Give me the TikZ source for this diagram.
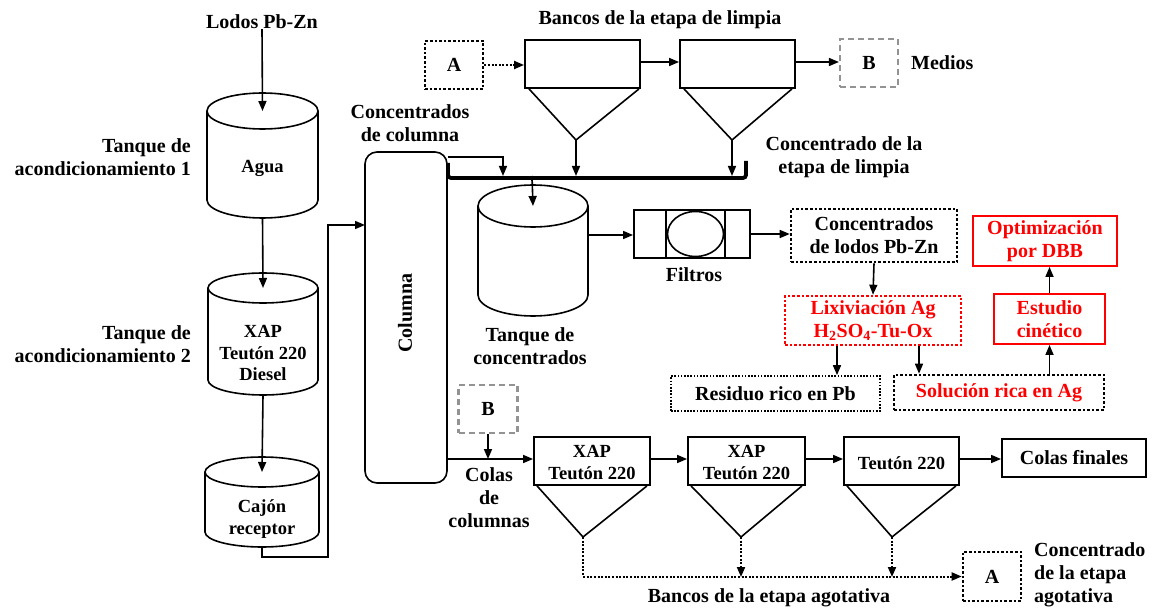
\documentclass[tikz,border=0pt]{standalone}
\usepackage{fontspec}
\setmainfont{Liberation Serif}
\usetikzlibrary{arrows.meta,calc}

% tank drawn as a cylinder: name, cx, rx, y of top ellipse, ry, y of bottom ellipse, text y, text
\newcommand\drawtank[8]{%
  \draw[conn] (#2-#3,#4) -- (#2-#3,#6) arc[start angle=180,end angle=0,x radius=#3,y radius=#5] -- (#2+#3,#4);
  \draw[conn] (#2,#4) ellipse[x radius=#3,y radius=#5];
  \node[tanktxt] (#1) at (#2,#7) {#8};
  \coordinate (#1-in) at (#2,#4);
  \coordinate (#1-out) at (#2,#6+#5);
}

\begin{document}
\begin{tikzpicture}[x=1pt,y=-1pt,
  conn/.style={line width=1.6pt},
  arr/.style={conn,-{Triangle[length=10pt,width=8pt]}},
  dotarr/.style={line width=2pt,dash pattern=on 2pt off 1.6pt,-{Triangle[length=10pt,width=8pt]}},
  lbl/.style={inner sep=0,align=center,font=\bfseries\fontsize{20}{23}\selectfont},
  tanktxt/.style={inner sep=0,align=center,font=\bfseries\fontsize{18.5}{21.5}\selectfont},
  banktxt/.style={inner sep=0,align=center,font=\bfseries\fontsize{18.5}{22}\selectfont},
  box/.style={draw,line width=1.9pt,inner sep=0},
  dotbox/.style={draw,line width=2.6pt,dash pattern=on 2.6pt off 2pt,inner sep=0},
  finedot/.style={draw,line width=1.7pt,dash pattern=on 1.7pt off 1.5pt,inner sep=0},
  graydash/.style={draw=gray!85,line width=2.2pt,dash pattern=on 6pt off 4pt,inner sep=0},
  redbox/.style={draw=red,line width=1.9pt,inner sep=0,text=red},
  reddot/.style={draw=red,line width=2.6pt,dash pattern=on 2.6pt off 2pt,inner sep=0,text=red}
]
\useasboundingbox (0,0) rectangle (1153,609);

% ---------------- feed and conditioning tanks ----------------
\node[lbl] (lodos) at (262,22) {Lodos Pb-Zn};
\drawtank{t1}{262.5}{55.5}{111}{18}{200}{168}{Agua}
\drawtank{t2}{263}{55}{288}{15}{380}{353}{XAP\\Teutón 220\\Diesel}
\drawtank{t3}{262}{57}{472}{15}{532}{519}{Cajón\\receptor}
\node[lbl,anchor=east,align=right] (lt1) at (191,157) {Tanque de\\acondicionamiento 1};
\node[lbl,anchor=east,align=right] (lt2) at (191,344) {Tanque de\\acondicionamiento 2};

\draw[arr] (lodos.south) -- (t1-in);
\draw[arr] (t1-out) -- (t2-in);
\draw[arr] (t2-out) -- (t3-in);

% ---------------- column ----------------
\node[draw,line width=1.6pt,rounded corners=12pt,minimum width=82pt,minimum height=331pt,inner sep=0] (col) at (406,317.5) {};
\node[lbl,rotate=90] (colt) at (405,313) {Columna};
\coordinate (feedup) at (328,557);
\coordinate (colin) at (365,225);
\draw[arr] (t3-out) |- (feedup) |- (colin);

\node[lbl] (cconc) at (410,123) {Concentrados\\de columna};

% ---------------- cleaner banks ----------------
\node[lbl] (tlimp) at (660,20) {Bancos de la etapa de limpia};
\node[box,minimum width=115pt,minimum height=48pt] (L1) at (582.5,64) {};
\node[box,minimum width=115pt,minimum height=48pt] (L2) at (737.5,64) {};
\coordinate (L1tip) at (576,140);
\coordinate (L2tip) at (732,140);
\draw[conn] ($(L1.south west)+(5,0)$) -- (L1tip) -- ($(L1.south east)+(-2,0)$);
\draw[conn] ($(L2.south west)+(5,0)$) -- (L2tip) -- ($(L2.south east)+(-4,0)$);
\node[dotbox,minimum width=58pt,minimum height=48pt,font=\bfseries\fontsize{20}{23}\selectfont] (At) at (454,65) {A};
\node[graydash,minimum width=58pt,minimum height=48pt,font=\bfseries\fontsize{20}{23}\selectfont] (Bt) at (869,63) {B};
\node[lbl,anchor=west] (medios) at (911,63) {Medios};
\draw[dotarr] (At.east) -- (At.east -| L1.west);
\draw[arr] (L1.east |- 0,62) -- (L2.west |- 0,62);
\draw[arr] (L2.east |- 0,62) -- (Bt.west |- 0,62);
\node[lbl] (climp) at (844,157) {Concentrado de la\\etapa de limpia};

% collecting launder
\draw[line width=3.8pt,rounded corners=3pt] (448,163) -- (448,178) -- (746,178) -- (746,161);
\coordinate (barin) at (503,176);
\coordinate (barout) at (532,176);
\draw[arr] ($(col.north east)+(0,6)$) -| (barin);
\draw[arr] (L1tip) -- (L1tip |- barin);
\draw[arr] (L2tip) -- (L2tip |- barin);

% ---------------- concentrate tank and filters ----------------
\drawtank{tc}{533}{55}{206}{21}{295}{346}{}
\node[lbl] (tct) at (530,346) {Tanque de\\concentrados};
\coordinate (tc-e) at (588,235);
\draw[line width=2.4pt] (barout) -- ++(0,5);
\draw[arr] (barout) -- (tc-in);

\node[box,minimum width=116pt,minimum height=48pt] (filt) at (692,234) {};
\draw[conn] (666,210) -- (666,258);
\draw[conn] (725,210) -- (725,258);
\draw[conn] (695.5,234) ellipse[x radius=28,y radius=22.5];
\node[lbl] (filtt) at (694,275) {Filtros};
\draw[arr] (tc-e) -- (tc-e -| filt.west);

\node[dotbox,lbl,minimum width=166pt,minimum height=53pt] (cl) at (874,235.5) {Concentrados\\de lodos Pb-Zn};
\draw[arr] (filt.east) -- (cl.west |- filt.east);

\node[reddot,lbl,text=red,minimum width=176pt,minimum height=49pt] (lix) at (873,320.5) {Lixiviación Ag\\H\textsubscript{2}SO\textsubscript{4}-Tu-Ox};
\draw[arr] (cl.south) -- (lix.north);

\node[finedot,lbl,minimum width=209pt,minimum height=35pt] (res) at (775.5,393.5) {Residuo rico en Pb};
\node[dotbox,lbl,text=red,minimum width=210pt,minimum height=35pt] (sol) at (999,392.5) {Solución rica en Ag};
\draw[arr] ([xshift=-36pt]lix.south) -- ([xshift=-36pt]lix.south |- res.north);
\draw[arr] ([xshift=46pt]lix.south) -- ([xshift=46pt]lix.south |- sol.north);

\node[redbox,lbl,text=red,minimum width=111pt,minimum height=50pt] (est) at (1049.5,319) {Estudio\\cinético};
\node[redbox,lbl,text=red,minimum width=144pt,minimum height=50pt] (opt) at (1045,241) {Optimización\\por DBB};
\draw[arr] (sol.north -| est.south) -- (est.south);
\draw[arr] (est.north) -- (est.north |- opt.south);

% ---------------- scavenger banks ----------------
\node[graydash,minimum width=59pt,minimum height=48pt,font=\bfseries\fontsize{20}{23}\selectfont] (Bb) at (488,409) {B};
\node[box,minimum width=116pt,minimum height=48pt] (A1) at (592,461) {};
\node[box,minimum width=117pt,minimum height=48pt] (A2) at (746.5,461) {};
\node[box,minimum width=115pt,minimum height=48pt] (A3) at (901.5,461) {};
\node[banktxt] at (592,463) {XAP\\Teutón 220};
\node[banktxt] at (746.5,463) {XAP\\Teutón 220};
\node[banktxt] at (901.5,463) {Teutón 220};
\node[box,lbl,minimum width=144pt,minimum height=38pt] (cf) at (1074,458) {Colas finales};
\coordinate (A1tip) at (583,537);
\coordinate (A2tip) at (741,537);
\coordinate (A3tip) at (892,537);
\draw[conn] ($(A1.south west)+(4,0)$) -- (A1tip) -- ($(A1.south east)+(-4,0)$);
\draw[conn] ($(A2.south west)+(4,0)$) -- (A2tip) -- ($(A2.south east)+(-4,0)$);
\draw[conn] ($(A3.south west)+(4,0)$) -- (A3tip) -- ($(A3.south east)+(-4,0)$);

\coordinate (colout) at (447,459);
\draw[arr] (colout) -- (colout -| A1.west);
\draw[arr] (Bb.south) -- (Bb.south |- colout);
\node[lbl] (colas) at (489,498) {Colas\\de\\columnas};
\draw[arr] (A1.east |- colout) -- (A2.west |- colout);
\draw[arr] (A2.east |- colout) -- (A3.west |- colout);
\draw[arr] (A3.east |- colout) -- (cf.west |- colout);

\node[dotbox,minimum width=58pt,minimum height=49pt,font=\bfseries\fontsize{20}{23}\selectfont] (Ab) at (992,576.5) {A};
\node[lbl,anchor=west,align=left] (cago) at (1034,575) {Concentrado\\de la etapa\\agotativa};
\coordinate (collect) at (583,577);
\draw[dotarr] (A1tip) |- (Ab.west);
\draw[dotarr] (A2tip) -- (A2tip |- collect);
\draw[dotarr] (A3tip) -- (A3tip |- collect);
\node[lbl] (tago) at (769,598) {Bancos de la etapa agotativa};

\end{tikzpicture}
\end{document}
